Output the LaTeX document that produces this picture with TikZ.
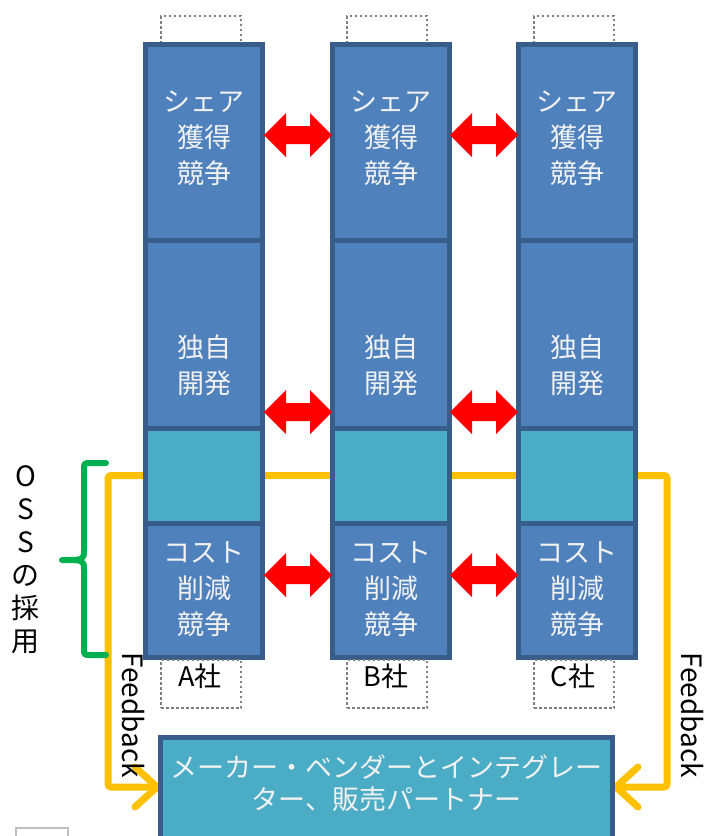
\documentclass[tikz,border=0pt]{standalone}
\usepackage{fontspec}
\setmainfont{Noto Sans CJK JP}
\usetikzlibrary{arrows.meta, calc}
\definecolor{cellblue}{HTML}{4F81BD}
\definecolor{celledge}{HTML}{385D8A}
\definecolor{cellteal}{HTML}{4BACC6}
\definecolor{fborange}{HTML}{FFC000}
\definecolor{bracegreen}{HTML}{00B050}
\definecolor{txtwhite}{HTML}{F2F2F2}
\definecolor{dotgray}{HTML}{808080}
\pgfdeclarelayer{bg}
\pgfsetlayers{bg,main}
\begin{document}
\begin{tikzpicture}[x=1pt,y=-1pt,
  cell/.style={draw=celledge, line width=5pt, fill=cellblue, minimum width=117pt, inner sep=0pt, outer sep=0pt},
  tealcell/.style={cell, fill=cellteal},
  celltext/.style={text=txtwhite, font=\fontsize{27}{36}\selectfont, align=center, inner sep=0pt},
  dotbox/.style={draw=dotgray, dash pattern=on 2.5pt off 2.5pt, line width=2.5pt, minimum width=80pt, inner sep=0pt},
  dblarrow/.pic={\fill[red] (-34,0) -- (-12,-22) -- (-12,-9) -- (12,-9) -- (12,-22) -- (34,0)
      -- (12,22) -- (12,9) -- (-12,9) -- (-12,22) -- cycle;},
  fb/.style={draw=fborange, line width=7pt, rounded corners=3pt},
  fbtip/.style={-{Straight Barb[length=22pt,width=40pt,round]}},
  fbtext/.style={font=\fontsize{28}{30}\selectfont, inner sep=0pt, rotate=-90},
  cotext/.style={font=\fontsize{27}{28}\selectfont, inner sep=0pt},
]
\useasboundingbox (0,0) rectangle (704,836);

% top dotted boxes
\foreach \c/\x in {a/201,b/387,c/574}{
  \node[dotbox, minimum height=40pt] (\c t) at (\x,36) {};
}
% columns
\foreach \c/\x in {a/204,b/391,c/577}{
  \node[cell, minimum height=195.5pt] (\c1) at (\x,142.25) {};
  \node[cell, minimum height=188pt] (\c2) at (\x,334) {};
  \node[tealcell, minimum height=95pt] (\c3) at (\x,475.5) {};
  \node[cell, minimum height=134.5pt] (\c4) at (\x,590.25) {};
  \node[celltext] (\c1t) at (\x,138) {シェア\\獲得\\競争};
  \node[celltext] (\c2t) at (\x,365) {独自\\開発};
  \node[celltext] (\c4t) at (\x,589) {コスト\\削減\\競争};
}
% bottom dotted boxes and company labels
\node[dotbox, minimum height=48pt] (ab) at (201,684) {};
\node[dotbox, minimum height=48pt] (bb) at (387,684) {};
\node[dotbox, minimum height=48pt] (cb) at (574,684) {};
\node[cotext] (al) at (200,676) {A社};
\node[cotext] (bl) at (386,676) {B社};
\node[cotext] (cl) at (573,676) {C社};

% red competition arrows
\foreach \y in {135,412,575}{
  \pic at (298,\y) {dblarrow};
  \pic at (484,\y) {dblarrow};
}

% vendor box
\node[tealcell, minimum width=452pt, minimum height=125pt] (v) at (386.5,800) {};
\node[celltext, font=\fontsize{27}{32}\selectfont] (vt) at (386.5,783) {メーカー・ベンダーとインテグレー\\ター、販売パートナー};

% feedback lines
\coordinate (fbl) at (108,787);
\coordinate (fbr) at (667,787);
\begin{pgfonlayer}{bg}
  \draw[fb] (a3.center) -- (c3.center);
  \draw[fb, fbtip] (a3.center) -| (fbl) -- (fbl -| v.west);
  \draw[fb, fbtip] (c3.center) -| (fbr) -- (fbr -| v.east);
\end{pgfonlayer}
\node[fbtext] (fbtl) at (133,715) {Feedback};
\node[fbtext] (fbtr) at (692,715) {Feedback};

% green brace
\draw[draw=bracegreen, line width=6pt, line cap=round, line join=round]
  (106,463) -- (90,463) .. controls (84,463) .. (84,470) -- (84,550)
  .. controls (84,560) .. (62,560)
  .. controls (84,560) .. (84,570) -- (84,648)
  .. controls (84,655) .. (90,655) -- (106,655);
\node[font=\fontsize{28}{33}\selectfont, align=center, inner sep=0pt] (oss) at (26,560) {O\\S\\S\\の\\採\\用};

% small gray square at bottom left
\draw[draw=gray!50, line width=2pt, fill=white] (16,828) rectangle (68,850);
\end{tikzpicture}
\end{document}
